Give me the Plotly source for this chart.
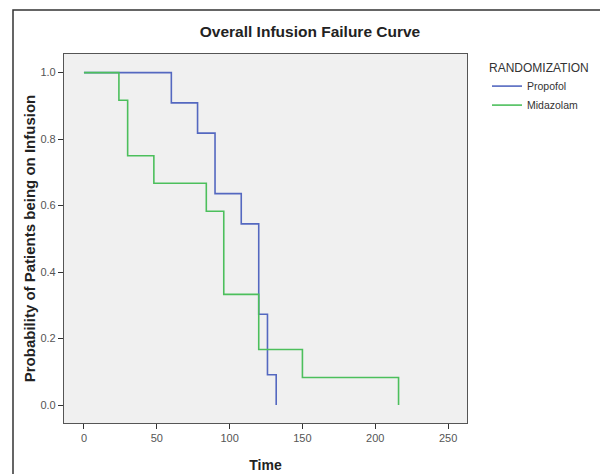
import plotly.graph_objects as go

# Kaplan-Meier step data
propofol_time = [0, 60, 78, 90, 108, 120, 126, 132]
propofol_surv = [1.0, 0.909, 0.818, 0.636, 0.545, 0.273, 0.091, 0.0]

midazolam_time = [0, 24, 30, 48, 84, 96, 120, 150, 216]
midazolam_surv = [1.0, 0.917, 0.750, 0.667, 0.583, 0.333, 0.167, 0.083, 0.0]

x_ticks = [0, 50, 100, 150, 200, 250]
y_ticks = [0.0, 0.2, 0.4, 0.6, 0.8, 1.0]

fig = go.Figure()
fig.add_trace(go.Scatter(x=propofol_time, y=propofol_surv, mode="lines", name="Propofol",
                         line=dict(shape="hv", color="#5468C0", width=1.6)))
fig.add_trace(go.Scatter(x=midazolam_time, y=midazolam_surv, mode="lines", name="Midazolam",
                         line=dict(shape="hv", color="#4CBF5C", width=1.6)))

fig.update_layout(
    width=600, height=474,
    margin=dict(l=64, r=133, t=54, b=51, autoexpand=False),
    paper_bgcolor="white",
    plot_bgcolor="#F0F0F0",
    font=dict(family="Liberation Sans, Arial, sans-serif", color="#333"),
    title=dict(text="Overall Infusion Failure Curve", x=310/600, xanchor="center",
               y=1 - 32/474, yanchor="middle", automargin=False,
               font=dict(size=15.5, color="#222", family="Liberation Sans, Arial, sans-serif", weight="bold")),
    showlegend=True,
    legend=dict(
        title=dict(text="RANDOMIZATION", font=dict(size=12, color="#333"), side="top"),
        x=(487 - 64) / 403, xanchor="left", y=1 - 2 / 369, yanchor="top",
        font=dict(size=10.5, color="#333"),
        bgcolor="rgba(0,0,0,0)", tracegroupgap=0, itemwidth=30,
    ),
    xaxis=dict(range=[-13.7, 263], tickvals=x_ticks, showgrid=False, zeroline=False,
               showline=True, linecolor="#555", linewidth=1.2, mirror=True, automargin=False,
               ticks="outside", ticklen=5, tickcolor="#333",
               tickfont=dict(size=11, color="#555"),
               title=dict(text="<b>Time</b>", font=dict(size=14, color="#222"), standoff=16)),
    yaxis=dict(range=[-0.054, 1.056], tickvals=y_ticks, tickformat=".1f", showgrid=False, zeroline=False,
               showline=True, linecolor="#555", linewidth=1.2, mirror=True, automargin=False,
               ticks="outside", ticklen=5, tickcolor="#333",
               tickfont=dict(size=11, color="#555"),
               title=dict(text="<b>Probability of Patients being on Infusion</b>",
                          font=dict(size=15, color="#222"), standoff=1)),
    shapes=[dict(type="rect", xref="paper", yref="paper",
                 x0=(13 - 64) / 403, x1=(610 - 64) / 403,
                 y0=(423 - 490) / 369, y1=(423 - 10) / 369,
                 line=dict(color="#333", width=1.5), fillcolor="rgba(0,0,0,0)", layer="below")],
)

fig.write_html("out.html", config={"displayModeBar": False},
               post_script="document.body.style.margin='0';document.body.style.padding='0';")
